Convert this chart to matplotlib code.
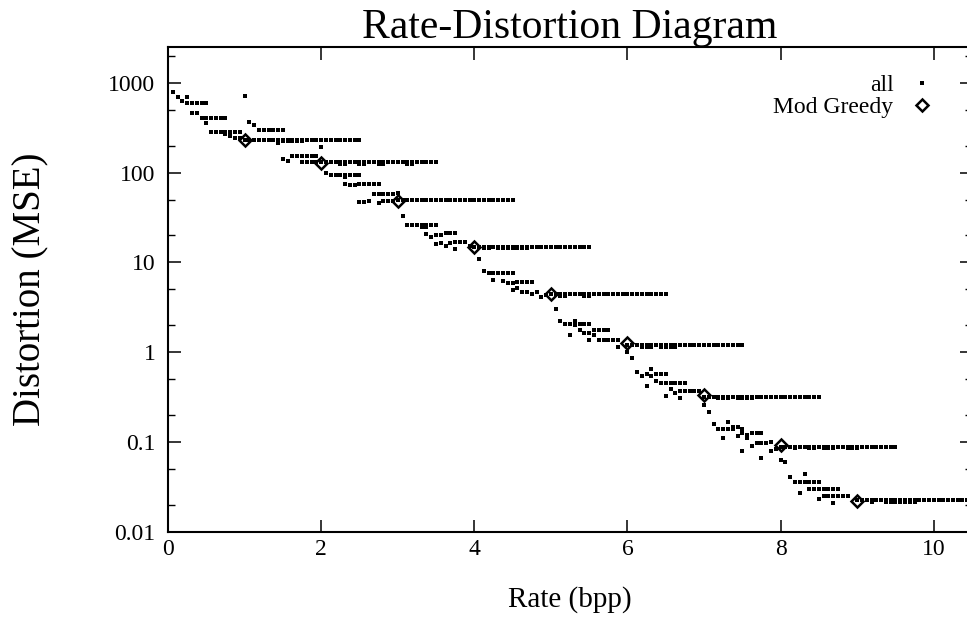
import numpy as np
import matplotlib.pyplot as plt
from matplotlib.ticker import LogLocator, NullFormatter

plt.rcParams['font.family'] = ['Liberation Serif', 'DejaVu Serif']

# rates are in steps of 1/16 bpp; each run = (distortion, first step, last step)
main_dist = [233, 130, 49, 15, 4.4, 1.2, 0.32, 0.089, 0.0227]
main_first = [16, 32, 48, 64, 80, 96, 112, 128, 144]
main_last = [40, 56, 72, 88, 104, 120, 136, 152, 168]

runs_0 = [(780, 1, 1), (700, 2, 2), (700, 4, 4), (620, 3, 3), (595, 4, 8),
          (460, 5, 6), (405, 7, 12), (359, 8, 8), (283, 9, 15), (270, 12, 12),
          (255, 13, 13), (243, 14, 15)]
runs_1 = [(717, 16, 16), (362, 17, 17), (341, 18, 18), (300, 19, 24), (212, 23, 23),
          (224, 23, 28), (142, 24, 24), (135, 25, 25), (155, 26, 31), (130, 28, 31),
          (195, 32, 32), (124, 36, 37), (124, 40, 41), (124, 44, 45), (124, 50, 51)]
runs_2 = [(98, 33, 33), (93, 34, 40), (90, 37, 37), (75, 37, 37), (72, 38, 39),
          (75, 40, 44), (58, 43, 47), (60, 48, 48), (46.5, 40, 41), (48.5, 42, 42),
          (46, 44, 44), (48, 45, 47)]
runs_3 = [(33, 49, 49), (26, 50, 56), (25, 53, 54), (20.5, 54, 54), (19.4, 55, 55),
          (20, 56, 57), (21.3, 58, 60), (15.9, 56, 56), (16.4, 57, 57), (15.1, 58, 58),
          (16.4, 59, 59), (16.8, 60, 62), (14.2, 60, 60), (15.1, 63, 63)]
runs_4 = [(11, 65, 65), (8.1, 66, 66), (7.6, 67, 72), (6.3, 68, 68), (6.2, 70, 70),
          (5.9, 71, 72), (6.1, 73, 76), (4.9, 72, 72), (5.2, 73, 73), (4.67, 74, 75),
          (4.5, 76, 76), (4.67, 77, 77), (4.1, 78, 78), (4.3, 79, 79),
          (14.4, 66, 67), (14.4, 69, 75)]
runs_5 = [(3.0, 81, 81), (2.23, 82, 82), (2.08, 83, 84), (2.23, 85, 85), (2.0, 85, 85),
          (2.08, 86, 88), (1.55, 84, 84), (1.76, 86, 86), (1.64, 87, 88), (1.76, 89, 92),
          (1.55, 89, 89), (1.36, 88, 88), (1.36, 90, 94), (1.15, 94, 94),
          (4.2, 82, 83), (4.2, 87, 88)]
runs_6 = [(1.0, 96, 96), (0.87, 97, 97), (0.61, 98, 98), (0.54, 99, 99), (0.58, 100, 100),
          (0.65, 101, 101), (0.54, 101, 101), (0.58, 102, 104), (0.42, 100, 100),
          (0.48, 102, 102), (0.45, 103, 108), (0.39, 105, 105), (0.33, 104, 104),
          (0.35, 106, 106), (0.37, 107, 111), (0.31, 107, 107),
          (1.16, 99, 101), (1.16, 103, 106)]
runs_7 = [(0.26, 112, 112), (0.214, 113, 113), (0.158, 114, 114), (0.139, 115, 118),
          (0.168, 117, 117), (0.11, 116, 116), (0.147, 118, 119), (0.139, 120, 120),
          (0.116, 119, 119), (0.125, 120, 120), (0.12, 121, 121), (0.11, 121, 121),
          (0.125, 122, 124), (0.08, 120, 120), (0.091, 122, 122), (0.097, 123, 125),
          (0.1, 126, 126), (0.067, 124, 124), (0.08, 126, 126), (0.083, 127, 127),
          (0.31, 115, 117), (0.31, 119, 122)]
runs_8 = [(0.063, 128, 128), (0.06, 129, 129), (0.041, 130, 130), (0.036, 131, 136),
          (0.044, 133, 133), (0.027, 132, 132), (0.0298, 134, 140), (0.0233, 136, 136),
          (0.025, 137, 142), (0.021, 139, 139),
          (0.086, 131, 131), (0.086, 134, 135), (0.086, 137, 139), (0.086, 142, 144)]
runs_9 = [(0.0218, 147, 147), (0.0218, 150, 156)]

greedy_rate = [1, 2, 3, 4, 5, 6, 7, 8, 9]
greedy_dist = [233, 127, 48, 15, 4.4, 1.28, 0.333, 0.093, 0.0223]

ytick_vals = [0.01, 0.1, 1, 10, 100, 1000]
ytick_text = ['0.01', '0.1', '1', '10', '100', '1000']
xtick_vals = [0, 2, 4, 6, 8, 10]

# 展开所有点
all_runs = [(d, a, b) for d, a, b in zip(main_dist, main_first, main_last)]
for r in (runs_0, runs_1, runs_2, runs_3, runs_4, runs_5, runs_6, runs_7, runs_8, runs_9):
    all_runs += r
rate_all = []
dist_all = []
for d, a, b in all_runs:
    for s in range(a, b + 1):
        rate_all.append(s / 16)
        dist_all.append(d)

fig = plt.figure(figsize=(9.67, 6.17), dpi=100)
ax = fig.add_axes([168 / 967, 85 / 617, 804 / 967, 485 / 617])

ax.plot(rate_all, dist_all, 's', ms=2.2, mew=0, color='black', linestyle='none',
        label='all')
ax.plot(greedy_rate, greedy_dist, 'D', ms=6, mfc='none', mec='black', mew=1.8,
        linestyle='none', label='Mod Greedy')

ax.set_yscale('log')
ax.set_xlim(0, 10.5)
ax.set_ylim(0.01, 2500)
ax.set_xticks(xtick_vals)
ax.set_xticklabels([str(v) for v in xtick_vals])
ax.set_yticks(ytick_vals)
ax.set_yticklabels(ytick_text)
ax.yaxis.set_minor_locator(LogLocator(base=10, subs=[2, 5]))
ax.yaxis.set_minor_formatter(NullFormatter())
ax.tick_params(which='both', direction='in', top=True, right=True, labelsize=17)
ax.tick_params(which='major', length=9, width=1.1)
ax.tick_params(axis='y', which='major', pad=9)
ax.tick_params(axis='x', which='major', pad=5)
ax.tick_params(which='minor', length=5, width=1.0)
for sp in ax.spines.values():
    sp.set_linewidth(1.5)

ax.set_title('Rate-Distortion Diagram', fontsize=30, pad=1)
ax.set_xlabel('Rate (bpp)', fontsize=21, labelpad=19)
ax.set_ylabel('Distortion (MSE)', fontsize=28)
ax.yaxis.set_label_coords(-0.147, 0.5)

ax.legend(loc='upper right', bbox_to_anchor=(0.967, 0.962), frameon=False,
          markerfirst=False, fontsize=17, handlelength=1.2, handletextpad=0.6,
          labelspacing=0.0, borderaxespad=0)

fig.savefig('out.png', dpi=100)
